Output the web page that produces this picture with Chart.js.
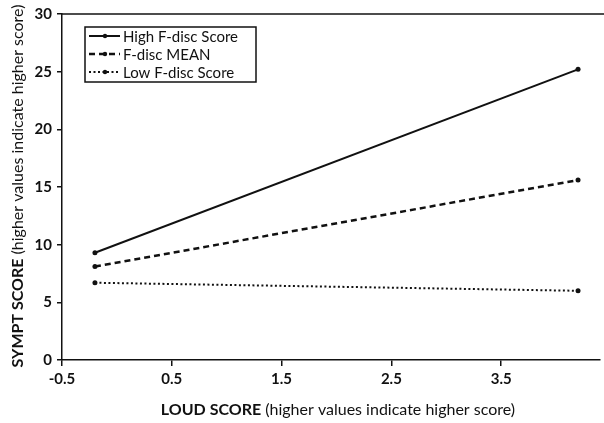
<!DOCTYPE html>
<html>
    <head>
        <meta charset="utf-8">
        <title>SYMPT score by LOUD score</title>
        <script src="https://cdn.jsdelivr.net/npm/chart.js@4.4.1/dist/chart.umd.min.js"></script>
        <style>
            body { margin: 0; background: #fff; }
            .chart-container { position: relative; width: 604px; height: 423px; }
        </style>
    </head>
    <body>
        <div class="chart-container">
            <canvas id="interactionPlot"></canvas>
        </div>

        <script>
            // DATA VALUES
            var loudScore = [-0.2, 4.2];
            var highFdisc = [9.3, 25.2];
            var meanFdisc = [8.1, 15.6];
            var lowFdisc = [6.7, 6.0];
            var seriesNames = ["High F-disc Score", "F-disc MEAN", "Low F-disc Score"];
            var xTicks = [-0.5, 0.5, 1.5, 2.5, 3.5];
            var yTicks = [0, 5, 10, 15, 20, 25, 30];
            var xTitleBold = "LOUD SCORE";
            var yTitleBold = "SYMPT SCORE";
            var titleRest = " (higher values indicate higher score)";

            const FONT = "Lato";
            Chart.defaults.font.family = FONT;
            Chart.defaults.font.weight = "bold";
            Chart.defaults.font.size = 15;
            Chart.defaults.color = "#111";

            function toPoints(values) {
                return loudScore.map((x, i) => ({x: x, y: values[i]}));
            }

            function makeSet(label, values, dash, width) {
                return {
                    label: label,
                    data: toPoints(values),
                    borderColor: "#111",
                    backgroundColor: "#111",
                    borderWidth: width,
                    borderDash: dash,
                    pointRadius: 2.5,
                    pointBorderWidth: 0,
                    pointBackgroundColor: "#111"
                };
            }

            // legend box, top border and mixed-weight axis titles
            const decorations = {
                id: "decorations",
                afterDraw(chart) {
                    const ctx = chart.ctx;
                    const area = chart.chartArea;
                    ctx.save();
                    ctx.fillStyle = "#111";

                    // top border of plot
                    ctx.strokeStyle = "#111";
                    ctx.lineWidth = 1.5;
                    ctx.beginPath();
                    ctx.moveTo(area.left, area.top);
                    ctx.lineTo(chart.width, area.top);
                    ctx.stroke();

                    // legend
                    ctx.lineWidth = 1.5;
                    ctx.strokeRect(85, 27, 171, 55);
                    ctx.font = "15px " + FONT;
                    ctx.textBaseline = "middle";
                    chart.data.datasets.forEach((ds, i) => {
                        const y = 36 + i * 18;
                        ctx.setLineDash(ds.borderDash);
                        ctx.lineWidth = ds.borderWidth;
                        ctx.beginPath();
                        ctx.moveTo(89, y);
                        ctx.lineTo(120, y);
                        ctx.stroke();
                        ctx.setLineDash([]);
                        ctx.beginPath();
                        ctx.arc(105, y, 2.2, 0, Math.PI * 2);
                        ctx.fill();
                        ctx.fillText(ds.label, 123, y + 1);
                    });

                    // x title
                    const bold = "bold 16px " + FONT;
                    const normal = "16px " + FONT;
                    ctx.font = bold;
                    const wb = ctx.measureText(xTitleBold).width;
                    ctx.font = normal;
                    const wn = ctx.measureText(titleRest).width;
                    let x0 = 338 - (wb + wn) / 2;
                    ctx.textAlign = "left";
                    ctx.font = bold;
                    ctx.fillText(xTitleBold, x0, 410);
                    ctx.font = normal;
                    ctx.fillText(titleRest, x0 + wb, 410);

                    // y title
                    ctx.translate(18, 186);
                    ctx.rotate(-Math.PI / 2);
                    ctx.font = bold;
                    const yb = ctx.measureText(yTitleBold).width;
                    ctx.font = normal;
                    const yn = ctx.measureText(titleRest).width;
                    x0 = -(yb + yn) / 2;
                    ctx.font = bold;
                    ctx.fillText(yTitleBold, x0, 0);
                    ctx.font = normal;
                    ctx.fillText(titleRest, x0 + yb, 0);

                    ctx.restore();
                }
            };

            const config = {
                type: "line",
                data: {
                    datasets: [
                        makeSet(seriesNames[0], highFdisc, [], 2),
                        makeSet(seriesNames[1], meanFdisc, [6, 4], 2.5),
                        makeSet(seriesNames[2], lowFdisc, [2, 2.5], 2)
                    ]
                },
                options: {
                    responsive: true,
                    maintainAspectRatio: false,
                    animation: false,
                    layout: {
                        padding: {top: 14, right: 0, left: 0, bottom: 0}
                    },
                    plugins: {
                        legend: {display: false},
                        tooltip: {enabled: false}
                    },
                    scales: {
                        x: {
                            type: "linear",
                            min: -0.5,
                            max: 4.4,
                            afterBuildTicks: (axis) => {
                                axis.ticks = xTicks.map(v => ({value: v}));
                            },
                            afterFit: (axis) => { axis.height = 63; },
                            grid: {
                                drawOnChartArea: false,
                                color: "#111",
                                lineWidth: 1.5,
                                tickLength: 6
                            },
                            border: {color: "#111", width: 1.5},
                            ticks: {
                                padding: 4,
                                maxRotation: 0,
                                font: {weight: "bold"},
                                callback: (v) => v.toFixed(1)
                            }
                        },
                        y: {
                            min: 0,
                            max: 30,
                            afterBuildTicks: (axis) => {
                                axis.ticks = yTicks.map(v => ({value: v}));
                            },
                            afterFit: (axis) => { axis.width = 62; },
                            grid: {
                                drawOnChartArea: false,
                                color: "#111",
                                lineWidth: 1.5,
                                tickLength: 5
                            },
                            border: {color: "#111", width: 1.5},
                            ticks: {
                                padding: 5,
                                font: {weight: "bold"}
                            }
                        }
                    }
                },
                plugins: [decorations]
            };

            const interactionPlot = new Chart("interactionPlot", config);
        </script>
    </body>
</html>
